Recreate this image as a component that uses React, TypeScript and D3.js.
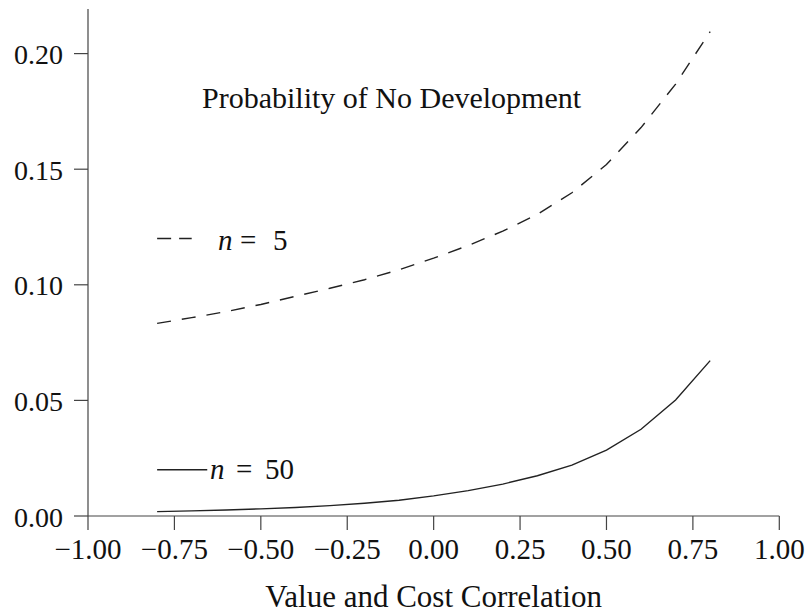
import React from "react";
import * as d3 from "d3";

const correlation = [-0.8, -0.7, -0.6, -0.5, -0.4, -0.3, -0.2, -0.1, 0.0, 0.1, 0.2, 0.3, 0.4, 0.5, 0.6, 0.7, 0.8];
const probN5 = [0.0833, 0.0858, 0.0884, 0.0915, 0.095, 0.0985, 0.1022, 0.1065, 0.1115, 0.117, 0.1232, 0.1305, 0.1398, 0.152, 0.168, 0.1868, 0.2095];
const probN50 = [0.0019, 0.0022, 0.0026, 0.0031, 0.0037, 0.0045, 0.0055, 0.0068, 0.0087, 0.011, 0.0138, 0.0174, 0.022, 0.0285, 0.0375, 0.0502, 0.0672];
const xTicks = [-1.0, -0.75, -0.5, -0.25, 0.0, 0.25, 0.5, 0.75, 1.0];
const yTicks = [0.0, 0.05, 0.1, 0.15, 0.2];
const title = "Probability of No Development";
const xLabel = "Value and Cost Correlation";
const legendN5 = { x: [-0.8, -0.7], y: 0.12, label: "5" };
const legendN50 = { x: [-0.8, -0.655], y: 0.02, label: "50" };

const W = 808;
const H = 614;
const FONT = "'Liberation Serif', 'DejaVu Serif', serif";

export default function App() {
  const x = d3.scaleLinear().domain([-1, 1]).range([88, 779.3]);
  const y = d3.scaleLinear().domain([0, 0.05]).range([516, 400.4]);
  const yTop = y.invert(9);
  const fmt = d3.format(".2f");
  const line = d3
    .line<number>()
    .x((_, i) => x(correlation[i]))
    .y((d) => y(d));
  const ink = "#222";
  const axisInk = "#444";
  const tick = 14;

  return (
    <svg
      width={W}
      height={H}
      style={{ position: "absolute", left: 0, top: 0, background: "#fff" }}
      fontFamily={FONT}
    >
      <rect width={W} height={H} fill="#fff" />
      {/* axes */}
      <line x1={x(-1)} x2={x(-1)} y1={y(yTop)} y2={y(0)} stroke={axisInk} strokeWidth={1.2} />
      <line x1={x(-1)} x2={x(1)} y1={y(0)} y2={y(0)} stroke={axisInk} strokeWidth={1.2} />
      {yTicks.map((t) => (
        <g key={"y" + t}>
          <line x1={x(-1) - tick} x2={x(-1)} y1={y(t)} y2={y(t)} stroke={axisInk} strokeWidth={1.2} />
          <text x={x(-1) - 25} y={y(t) + 10.5} textAnchor="end" fontSize={28} fill="#111">
            {fmt(t)}
          </text>
        </g>
      ))}
      {xTicks.map((t) => (
        <g key={"x" + t}>
          <line x1={x(t)} x2={x(t)} y1={y(0)} y2={y(0) + tick} stroke={axisInk} strokeWidth={1.2} />
          <text x={x(t)} y={559} textAnchor="middle" fontSize={29} fill="#111">
            {fmt(t)}
          </text>
        </g>
      ))}
      <text x={(x(-1) + x(1)) / 2} y={607} textAnchor="middle" fontSize={31} fill="#111">
        {xLabel}
      </text>
      <text x={202} y={108} fontSize={30} fill="#111">
        {title}
      </text>

      {/* curves */}
      <path d={line(probN5) || ""} fill="none" stroke={ink} strokeWidth={1.4} strokeDasharray="14,11" />
      <path d={line(probN50) || ""} fill="none" stroke={ink} strokeWidth={1.4} />

      {/* legend */}
      <line
        x1={x(legendN5.x[0])}
        x2={x(legendN5.x[1])}
        y1={y(legendN5.y)}
        y2={y(legendN5.y)}
        stroke={ink}
        strokeWidth={1.4}
        strokeDasharray="14,8"
      />
      <text x={218} y={250} fontSize={29} fill="#111">
        <tspan fontStyle="italic">n</tspan>
        <tspan x={240}>=</tspan>
        <tspan x={273}>{legendN5.label}</tspan>
      </text>
      <line
        x1={x(legendN50.x[0])}
        x2={x(legendN50.x[1])}
        y1={y(legendN50.y)}
        y2={y(legendN50.y)}
        stroke={ink}
        strokeWidth={1.4}
      />
      <text x={210} y={479} fontSize={29} fill="#111">
        <tspan fontStyle="italic">n</tspan>
        <tspan x={236}>=</tspan>
        <tspan x={265}>{legendN50.label}</tspan>
      </text>
    </svg>
  );
}
